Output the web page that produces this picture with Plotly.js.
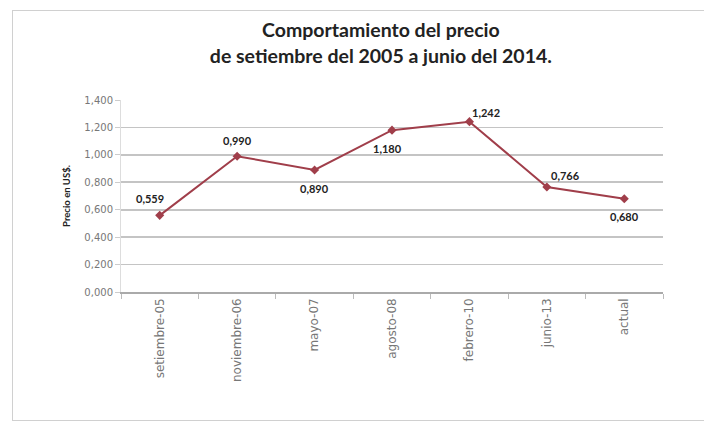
<!DOCTYPE html>
<html>
<head>
<meta charset="utf-8">
<script src="https://cdn.plot.ly/plotly-3.0.1.min.js"></script>
<style>
  body { margin:0; background:#fff; }
  #frame { position:absolute; left:12px; top:10px; width:700px; height:411px; border:1.5px solid #d0d0d0; box-sizing:border-box; pointer-events:none; }
  #chart { position:absolute; left:0; top:0; width:704px; height:423px; }
</style>
</head>
<body>
<div id="chart"></div>
<div id="frame"></div>
<script>
const categories = ["setiembre-05", "noviembre-06", "mayo-07", "agosto-08", "febrero-10", "junio-13", "actual"];
const precios = [0.559, 0.990, 0.890, 1.180, 1.242, 0.766, 0.680];
const yTicks = [0, 0.2, 0.4, 0.6, 0.8, 1.0, 1.2, 1.4];
// label offsets in pixels (style only)
const labelDx = [-10, 0, 0, -5, 17, 19, 0];
const labelDy = [17, 16, -19, -18, 9, 11, -18];

const trace = {
  type: "scatter",
  mode: "lines+markers",
  x: categories,
  y: precios,
  line: { color: "#a03e4a", width: 2 },
  marker: { symbol: "diamond", size: 7, color: "#a03e4a" },
  cliponaxis: false,
  hoverinfo: "none"
};

const annotations = categories.map((c, i) => ({
  x: c, y: precios[i], xref: "x", yref: "y",
  text: "<b>" + precios[i].toFixed(3).replace(".", ",") + "</b>",
  showarrow: false,
  xshift: labelDx[i], yshift: labelDy[i],
  font: { family: "Lato, 'Open Sans', sans-serif", size: 11, color: "#222" }
}));

const layout = {
  width: 704, height: 423,
  margin: { l: 121, r: 41, t: 100, b: 131 },
  paper_bgcolor: "#fff", plot_bgcolor: "#fff",
  separators: ",.",
  showlegend: false,
  font: { family: "Lato, 'Open Sans', sans-serif", color: "#444" },
  title: {
    text: "<b>Comportamiento del precio<br>de setiembre del 2005 a junio del 2014.</b>",
    font: { family: "Lato, 'Open Sans', sans-serif", size: 19.5, color: "#222" },
    xref: "container", x: 0.541, xanchor: "center",
    yref: "container", y: 0.912, yanchor: "top"
  },
  annotations: annotations,
  xaxis: {
    type: "category",
    tickangle: -90,
    tickfont: { family: "'DejaVu Sans', sans-serif", size: 12, color: "#777" },
    showline: true, linecolor: "#aaa", linewidth: 1.5,
    ticks: "outside", ticklen: 5, tickcolor: "#bbb",
    tickson: "boundaries",
    showgrid: false,
    automargin: false,
    range: [-0.5, 6.5]
  },
  yaxis: {
    range: [0, 1.4],
    tickvals: yTicks,
    tickformat: ".3f",
    tickfont: { family: "'DejaVu Sans', sans-serif", size: 10, color: "#777" },
    gridcolor: "#c4c4c4", gridwidth: 1.8,
    showline: true, linecolor: "#ddd",
    ticks: "outside", ticklen: 5, tickcolor: "#ccc",
    zeroline: false,
    automargin: false,
    title: { text: "<b>Precio en US$.</b>", font: { size: 9.5, color: "#222" }, standoff: 12 }
  }
};

Plotly.newPlot("chart", [trace], layout, { staticPlot: true });
</script>
</body>
</html>
